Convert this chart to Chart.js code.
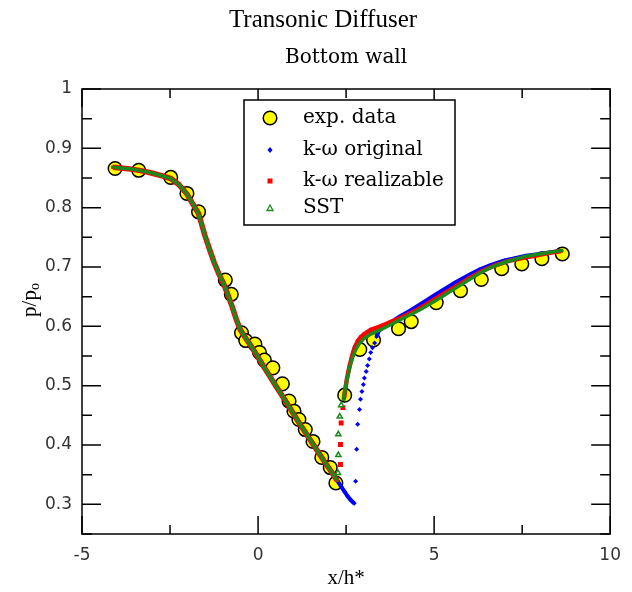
<!DOCTYPE html>
<html><head><meta charset="utf-8">
<script src="https://cdn.jsdelivr.net/npm/chart.js@4.4.1/dist/chart.umd.min.js"></script>
<style>html,body{margin:0;padding:0;background:#fff;}#wrap{width:632px;height:592px;}</style>
</head><body><div id="wrap"><canvas id="c" width="632" height="592"></canvas></div>
<script>
// ---- data ----
const expX = [-4.06,-3.39,-2.48,-2.02,-1.69,-0.93,-0.76,-0.47,-0.35,-0.09,0.04,0.18,0.42,0.69,0.88,1.02,1.16,1.34,1.56,1.81,2.05,2.21,2.46,2.89,3.28,3.99,4.35,5.06,5.75,6.34,6.92,7.49,8.06,8.64];
const expY = [0.866,0.863,0.851,0.824,0.793,0.678,0.654,0.589,0.576,0.570,0.556,0.543,0.530,0.503,0.474,0.457,0.443,0.426,0.406,0.379,0.362,0.336,0.484,0.561,0.577,0.596,0.608,0.640,0.660,0.679,0.697,0.705,0.714,0.722];

// upstream part, where all three models coincide
const upstreamX = [-4.12,-3.9,-3.6,-3.3,-3.0,-2.7,-2.48,-2.25,-2.02,-1.85,-1.69,-1.51,-1.38,-1.25,-1.11,-0.98,-0.85,-0.74,-0.62,-0.5,-0.35,-0.19,0.0,0.14,0.3,0.51,0.75,1.0,1.16,1.4,1.6,1.85,2.09,2.25];
const upstreamY = [0.868,0.867,0.865,0.862,0.858,0.853,0.849,0.839,0.823,0.806,0.790,0.753,0.730,0.708,0.688,0.672,0.652,0.634,0.612,0.594,0.580,0.566,0.548,0.534,0.519,0.499,0.477,0.453,0.438,0.416,0.398,0.375,0.354,0.340];

// k-omega original
const origTailX = [2.25,2.37,2.46,2.55,2.62,2.69,2.73];
const origTailY = [0.340,0.329,0.321,0.313,0.308,0.304,0.302];
const origJumpX = [2.77,2.80,2.83,2.88,2.91,2.95,2.99,3.02,3.07,3.11,3.16,3.20,3.25,3.31];
const origJumpY = [0.339,0.393,0.435,0.460,0.477,0.490,0.502,0.513,0.524,0.534,0.545,0.556,0.564,0.572];
const origDownX = [3.36,3.43,3.6,3.8,4.0,4.3,4.6,5.0,5.3,5.6,6.0,6.3,6.6,7.0,7.3,7.6,8.0,8.3,8.6];
const origDownY = [0.582,0.592,0.601,0.608,0.616,0.626,0.637,0.652,0.663,0.674,0.687,0.696,0.703,0.711,0.715,0.719,0.722,0.725,0.727];

// k-omega realizable
const realJumpX = [2.34,2.34,2.36,2.41];
const realJumpY = [0.367,0.401,0.437,0.463];
const realDownX = [2.44,2.48,2.52,2.56,2.6,2.65,2.7,2.76,2.83,2.92,3.02,3.2,3.48,3.76,4.04,4.4,4.7,5.0,5.3,5.61,6.0,6.36,6.7,7.1,7.5,7.85,8.2,8.6];
const realDownY = [0.478,0.495,0.510,0.522,0.533,0.545,0.556,0.566,0.575,0.582,0.587,0.594,0.600,0.607,0.614,0.624,0.634,0.645,0.656,0.667,0.681,0.693,0.702,0.710,0.715,0.719,0.723,0.727];

// SST
const sstJumpX = [2.27,2.28,2.28,2.32,2.36];
const sstJumpY = [0.353,0.383,0.418,0.448,0.467];
const sstDownX = [2.42,2.46,2.5,2.55,2.6,2.65,2.7,2.76,2.83,2.92,3.0,3.2,3.5,3.8,4.0,4.3,4.6,5.0,5.3,5.6,6.0,6.3,6.6,7.0,7.3,7.6,8.0,8.3,8.65];
const sstDownY = [0.476,0.490,0.503,0.517,0.530,0.541,0.550,0.559,0.567,0.574,0.579,0.587,0.595,0.604,0.610,0.619,0.628,0.642,0.653,0.664,0.679,0.690,0.699,0.708,0.713,0.718,0.722,0.725,0.728];

const xMajor = [-5,0,5,10];
const xTickLabels = ['-5','0','5','10'];
const xMinor = [-2.5,2.5,7.5];
const yMajor = [0.3,0.4,0.5,0.6,0.7,0.8,0.9,1];
const yTickLabels = ['0.3','0.4','0.5','0.6','0.7','0.8','0.9','1'];
const yMinor = [0.25,0.35,0.45,0.55,0.65,0.75,0.85,0.95];
const legendLabels = ['exp. data','k-\u03c9 original','k-\u03c9 realizable','SST'];
const titleText = 'Transonic Diffuser';
const subtitleText = 'Bottom wall';
const xTitle = 'x/h*';

// ---- build ----
const pts = (xs, ys) => xs.map((x,i)=>({x, y: ys[i]}));
const BLUE='#0000ff', RED='#ff0000', GREEN='#1a8a1a', YEL='#ffff00';
const SERIF = '"DejaVu Serif", serif';
const TIMES = '"Liberation Serif", serif';

function lineSet(data, color, w, style, r){
  return {data, showLine:true, borderColor:color, borderWidth:w, backgroundColor:color,
    pointStyle:style, pointRadius:r, pointBorderWidth:0, pointBackgroundColor:color, tension:0};
}
function ptSet(data, color, style, r, bg, bw){
  return {data, showLine:false, borderColor:color, backgroundColor:bg||color,
    pointStyle:style, pointRadius:r, pointBorderWidth:bw||0, pointBorderColor:color, pointBackgroundColor:bg||color};
}

const datasets = [
  lineSet(pts(upstreamX, upstreamY), GREEN, 3.5, 'triangle', 2),
  ptSet(pts(sstJumpX, sstJumpY), GREEN, 'triangle', 3, '#ffffff', 1.5),
  lineSet(pts(sstDownX, sstDownY), GREEN, 3.5, 'triangle', 2),
  lineSet(pts(upstreamX, upstreamY), RED, 5.5, 'rect', 2.5),
  ptSet(pts(realJumpX, realJumpY), RED, 'rect', 3.5),
  lineSet(pts(realDownX, realDownY), RED, 4.5, 'rect', 2.5),
  lineSet(pts(upstreamX, upstreamY), BLUE, 4, 'rectRot', 2),
  lineSet(pts(origTailX, origTailY), BLUE, 4, 'rectRot', 2.5),
  ptSet(pts(origJumpX, origJumpY), BLUE, 'rectRot', 2.5),
  lineSet(pts(origDownX, origDownY), BLUE, 4, 'rectRot', 2),
  ptSet(pts(expX, expY), '#000000', 'circle', 6.8, YEL, 1.5)
];

const decor = {
  id:'decor',
  afterDatasetsDraw(chart){
    const {ctx, chartArea:a, scales:{x, y}} = chart;
    ctx.save();
    ctx.strokeStyle = '#000'; ctx.lineWidth = 1.5;
    ctx.strokeRect(a.left, a.top, a.right-a.left, a.bottom-a.top);
    ctx.beginPath();
    const seg=(x1,y1,x2,y2)=>{ctx.moveTo(x1,y1);ctx.lineTo(x2,y2);};
    xMajor.forEach(v=>{const p=x.getPixelForValue(v); seg(p,a.bottom,p,a.bottom-18); seg(p,a.top,p,a.top+18);});
    xMinor.forEach(v=>{const p=x.getPixelForValue(v); seg(p,a.bottom,p,a.bottom-9); seg(p,a.top,p,a.top+9);});
    yMajor.forEach(v=>{const p=y.getPixelForValue(v); seg(a.left,p,a.left+19,p); seg(a.right,p,a.right-19,p);});
    yMinor.forEach(v=>{const p=y.getPixelForValue(v); seg(a.left,p,a.left+10,p); seg(a.right,p,a.right-10,p);});
    ctx.stroke();

    // legend box
    const L={x:244,y:100,w:211,h:125};
    ctx.fillStyle='#fff'; ctx.fillRect(L.x,L.y,L.w,L.h);
    ctx.lineWidth=1.5; ctx.strokeRect(L.x,L.y,L.w,L.h);
    const rows=[118,150,181,208], mx=270, tx=303;
    ctx.beginPath(); ctx.arc(mx,rows[0],6.8,0,Math.PI*2); ctx.fillStyle=YEL; ctx.fill(); ctx.lineWidth=1.5; ctx.strokeStyle='#000'; ctx.stroke();
    ctx.beginPath(); ctx.moveTo(mx,rows[1]-3); ctx.lineTo(mx+2.5,rows[1]); ctx.lineTo(mx,rows[1]+3); ctx.lineTo(mx-2.5,rows[1]); ctx.closePath(); ctx.fillStyle=BLUE; ctx.fill();
    ctx.fillStyle=RED; ctx.fillRect(mx-2.5,rows[2]-2.5,5,5);
    ctx.beginPath(); ctx.moveTo(mx,rows[3]-3); ctx.lineTo(mx+3,rows[3]+2.5); ctx.lineTo(mx-3,rows[3]+2.5); ctx.closePath(); ctx.lineWidth=1.3; ctx.strokeStyle=GREEN; ctx.stroke();
    ctx.fillStyle='#000'; ctx.font='20px '+SERIF; ctx.textBaseline='middle'; ctx.textAlign='left';
    legendLabels.forEach((t,i)=>ctx.fillText(t,tx,rows[i]));
    ctx.restore();
  },
  afterDraw(chart){
    const {ctx, chartArea:a} = chart;
    const pc = (a.left+a.right)/2;
    ctx.save();
    ctx.fillStyle='#000'; ctx.textAlign='center'; ctx.textBaseline='middle';
    ctx.font='25px '+TIMES; ctx.fillText(titleText, 323, 20);
    ctx.font='20px '+SERIF; ctx.fillText(subtitleText, pc, 58);
    ctx.font='21px '+TIMES; ctx.fillText(xTitle, pc, 578);
    ctx.translate(30, 300); ctx.rotate(-Math.PI/2);
    ctx.textAlign='left';
    ctx.font='21px '+TIMES; const w=ctx.measureText('p/p').width;
    ctx.font='14px '+TIMES; const ws=ctx.measureText('o').width;
    const start=-(w+ws)/2;
    ctx.font='21px '+TIMES; ctx.fillText('p/p', start, 0);
    ctx.font='14px '+TIMES; ctx.fillText('o', start+w, 5);
    ctx.restore();
  }
};

const tickFont = {family:'"DejaVu Sans", sans-serif', size:17};
new Chart(document.getElementById('c'), {
  type:'scatter',
  data:{datasets},
  options:{
    responsive:false, animation:false, devicePixelRatio:1, events:[],
    layout:{padding:{left:0,right:11,top:89,bottom:0}},
    plugins:{legend:{display:false}, tooltip:{enabled:false}, title:{display:false}},
    scales:{
      x:{type:'linear', min:-5, max:10,
        grid:{display:false, drawTicks:false}, border:{display:false},
        ticks:{font:tickFont, color:'#333', padding:11, callback:(v)=>{const i=xMajor.indexOf(v); return i>=0?xTickLabels[i]:'';}},
        afterBuildTicks:s=>{s.ticks = xMajor.map(v=>({value:v}));},
        afterFit:s=>{s.height=58;}},
      y:{type:'linear', min:0.25, max:1,
        grid:{display:false, drawTicks:false}, border:{display:false},
        ticks:{font:tickFont, color:'#333', padding:10, callback:(v)=>{const i=yMajor.findIndex(m=>Math.abs(m-v)<1e-9); return i>=0?yTickLabels[i]:'';}},
        afterBuildTicks:s=>{s.ticks = yMajor.map(v=>({value:v}));},
        afterFit:s=>{s.width=82;}}
    }
  },
  plugins:[decor]
});
</script></body></html>
